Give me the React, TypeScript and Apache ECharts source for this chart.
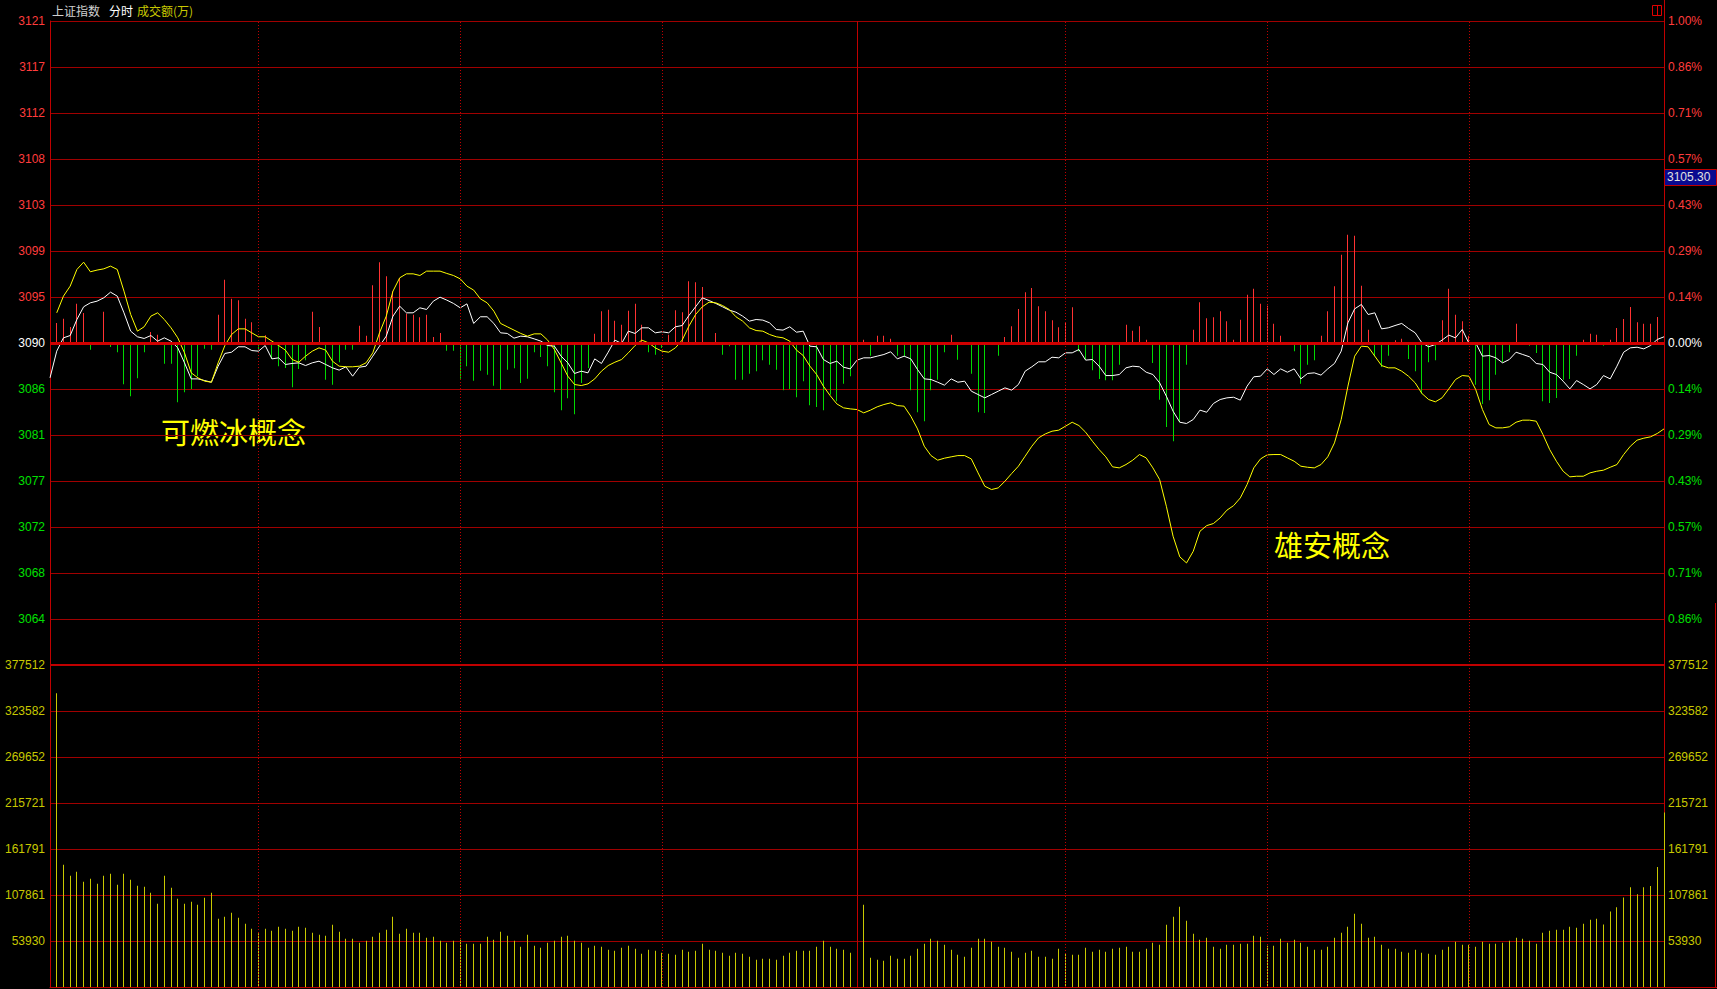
import React, { useEffect, useRef } from 'react';
import * as echarts from 'echarts';

// ---- data (one value per minute) ----
// 上证指数 price line, minute 0..240
const indexPrice = [
  3086.50, 3089.06, 3090.34, 3090.56, 3092.10, 3093.32, 3093.70, 3093.86, 3094.18, 3094.72,
  3094.34, 3092.74, 3090.98, 3090.44, 3090.28, 3090.56, 3090.02, 3090.34, 3090.02, 3089.38,
  3087.94, 3086.40, 3086.40, 3086.24, 3086.08, 3087.62, 3088.84, 3088.96, 3089.48, 3089.48,
  3089.12, 3089.06, 3089.60, 3088.32, 3088.42, 3087.78, 3087.88, 3087.94, 3087.68, 3087.94,
  3088.10, 3087.78, 3087.46, 3087.24, 3087.56, 3086.66, 3087.52, 3087.62, 3088.58, 3089.54,
  3090.50, 3092.42, 3093.38, 3092.74, 3092.74, 3093.22, 3093.06, 3093.86, 3094.24, 3093.96,
  3093.64, 3093.22, 3093.60, 3091.72, 3092.36, 3092.36, 3091.72, 3090.82, 3090.76, 3090.31,
  3090.50, 3090.44, 3090.24, 3090.02, 3089.60, 3089.54, 3088.58, 3087.94, 3086.92, 3087.14,
  3086.98, 3088.32, 3087.88, 3088.96, 3090.12, 3089.80, 3090.98, 3090.76, 3091.30, 3091.30,
  3090.82, 3090.92, 3090.82, 3091.40, 3091.52, 3092.48, 3093.32, 3094.18, 3093.92, 3093.64,
  3093.32, 3093.00, 3092.80, 3092.42, 3091.94, 3092.10, 3092.04, 3091.78, 3091.14, 3091.08,
  3091.40, 3090.88, 3090.98, 3089.54, 3089.48, 3088.26, 3087.88, 3088.10, 3087.52, 3087.36,
  3088.20, 3088.42, 3088.42, 3088.58, 3088.74, 3089.00, 3088.32, 3088.58, 3088.32, 3087.30,
  3086.40, 3086.34, 3086.08, 3085.80, 3086.40, 3086.08, 3086.18, 3085.22, 3084.90, 3084.58,
  3084.90, 3085.22, 3085.54, 3085.32, 3085.86, 3087.14, 3087.56, 3088.04, 3088.04, 3088.48,
  3088.42, 3088.90, 3088.90, 3089.22, 3088.20, 3088.26, 3087.62, 3086.72, 3086.72, 3086.82,
  3087.46, 3087.62, 3087.56, 3087.04, 3086.82, 3086.02, 3084.74, 3083.30, 3082.24, 3082.12,
  3082.50, 3083.40, 3083.20, 3084.04, 3084.42, 3084.58, 3084.64, 3084.36, 3085.70, 3086.60,
  3086.66, 3087.36, 3086.82, 3087.36, 3087.04, 3087.36, 3086.40, 3086.92, 3086.98, 3086.76,
  3087.36, 3087.88, 3089.06, 3091.78, 3093.12, 3093.54, 3092.58, 3092.74, 3091.20, 3091.30,
  3091.52, 3091.72, 3091.24, 3090.82, 3089.86, 3089.48, 3089.70, 3090.12, 3090.60, 3090.34,
  3091.14, 3089.80, 3089.86, 3088.58, 3088.64, 3088.42, 3087.94, 3088.26, 3088.96, 3088.74,
  3088.52, 3087.88, 3087.78, 3087.04, 3086.82, 3086.18, 3085.44, 3086.24, 3085.86, 3085.44,
  3085.86, 3086.72, 3086.40, 3087.62, 3088.96, 3089.38, 3089.44, 3089.28, 3089.60, 3090.18,
  3090.44,
];

// yellow line, minute 1..240
const leadPrice = [
  3092.74, 3094.34, 3095.30, 3096.90, 3097.60, 3096.68, 3096.84, 3096.96, 3097.22, 3096.90,
  3094.82, 3092.58, 3090.98, 3091.40, 3092.42, 3092.74, 3092.10, 3091.30, 3090.34, 3088.90,
  3086.98, 3086.50, 3086.18, 3086.08, 3087.94, 3089.60, 3090.66, 3091.20, 3091.20, 3090.82,
  3090.44, 3090.44, 3090.02, 3089.60, 3089.16, 3088.26, 3088.00, 3088.58, 3089.06, 3089.38,
  3089.16, 3088.10, 3087.62, 3087.56, 3087.56, 3087.62, 3087.94, 3088.90, 3090.82, 3092.42,
  3094.82, 3096.10, 3096.48, 3096.48, 3096.32, 3096.74, 3096.74, 3096.74, 3096.52, 3096.32,
  3096.00, 3095.30, 3094.92, 3094.08, 3093.70, 3092.90, 3091.72, 3091.40, 3091.08, 3090.76,
  3090.50, 3090.72, 3090.72, 3090.12, 3089.22, 3087.94, 3086.66, 3085.86, 3085.76, 3085.92,
  3086.40, 3087.14, 3087.68, 3088.00, 3088.26, 3088.90, 3089.60, 3090.12, 3089.86, 3089.38,
  3089.06, 3088.96, 3089.38, 3090.12, 3091.46, 3092.58, 3093.32, 3093.76, 3093.70, 3093.44,
  3093.06, 3092.36, 3091.94, 3091.30, 3091.04, 3090.98, 3090.66, 3090.44, 3090.34, 3090.02,
  3089.16, 3088.64, 3087.62, 3086.82, 3085.70, 3084.80, 3084.00, 3083.62, 3083.52, 3083.46,
  3083.14, 3083.40, 3083.72, 3083.94, 3084.10, 3083.84, 3083.78, 3082.82, 3081.60, 3079.94,
  3079.04, 3078.60, 3078.79, 3078.92, 3079.04, 3079.04, 3078.72, 3077.38, 3076.10, 3075.78,
  3075.94, 3076.58, 3077.32, 3078.02, 3078.98, 3079.94, 3080.74, 3081.12, 3081.38, 3081.48,
  3081.86, 3082.24, 3081.92, 3081.28, 3080.42, 3079.62, 3078.92, 3077.96, 3077.86, 3078.18,
  3078.60, 3079.14, 3078.82, 3077.86, 3076.74, 3074.18, 3071.30, 3069.32, 3068.74, 3069.86,
  3071.78, 3072.32, 3072.52, 3073.06, 3073.80, 3074.24, 3074.98, 3076.26, 3077.86, 3078.72,
  3079.11, 3079.14, 3079.14, 3078.82, 3078.50, 3078.02, 3077.92, 3077.86, 3078.18, 3078.92,
  3080.26, 3082.50, 3085.70, 3088.58, 3089.54, 3089.48, 3088.58, 3087.68, 3087.46, 3087.46,
  3087.14, 3086.66, 3086.02, 3085.00, 3084.42, 3084.20, 3084.58, 3085.44, 3086.34, 3086.72,
  3086.66, 3085.38, 3083.46, 3082.02, 3081.70, 3081.70, 3081.80, 3082.24, 3082.44, 3082.44,
  3082.34, 3081.06, 3079.62, 3078.50, 3077.54, 3077.00, 3077.06, 3077.06, 3077.38, 3077.54,
  3077.64, 3077.92, 3078.18, 3079.14, 3079.94, 3080.52, 3080.71, 3080.84, 3081.16, 3081.60,
];

// buy/sell strength bars, minute 1..240 (positive red, negative green)
const strength = [
  60, 73, 48, 118, 90, -20, 0, 94, -12, -28,
  -124, -160, -106, -28, 33, 25, -62, -62, -178, -148,
  -138, -100, -17, -20, 85, 190, 133, 128, 73, 62,
  -20, 23, -48, -70, -75, -133, -78, -52, 94, 48,
  -110, -125, -58, -20, -20, 52, 22, 173, 242, 200,
  155, 195, 88, 85, 77, 85, 18, 30, -23, -23,
  -107, -70, -113, -83, -95, -128, -140, -80, -76, -120,
  -107, -28, -42, -70, -148, -202, -166, -214, -120, -75,
  28, 95, 100, 67, 55, 97, 118, 55, -28, -35,
  -15, 25, 98, 92, 185, 182, 168, 0, 30, -35,
  -10, -110, -110, -92, -85, -52, -65, -80, -142, -138,
  -163, -115, -187, -192, -202, -155, -175, -122, -100, -25,
  10, -38, 22, 22, 13, -38, -40, -142, -208, -235,
  -142, -110, -28, 25, -50, -3, -92, -208, -210, -3,
  -38, 18, 50, 102, 152, 165, 110, 95, 68, 47,
  62, 107, -25, -50, -82, -108, -112, -112, -65, 55,
  37, 50, 10, -60, -170, -252, -295, -238, -65, 40,
  122, 74, 77, 95, 65, 10, 70, 145, 163, 118,
  112, 58, 22, 0, -25, -122, -65, -52, 22, 95,
  170, 265, 325, 322, 172, 40, -40, -72, -38, 8,
  13, -48, -85, -152, -58, -52, 68, 163, 85, 65,
  22, -125, -183, -172, -95, -58, -28, 58, -5, -8,
  -30, -175, -180, -165, -110, -108, -38, 10, 28, 25,
  -8, 10, 45, 72, 108, 62, 58, 58, 78, 0,
];

// 成交额(万), minute 1..240
const turnover = [
  344300, 143400, 130500, 135200, 123500, 127000, 121100, 130500, 132900, 120000,
  132900, 125800, 118800, 117600, 110600, 97700, 130500, 116500, 103600, 97700,
  100000, 96500, 104700, 110600, 80100, 82500, 87100, 81300, 74300, 68400,
  62900, 68400, 66000, 70700, 68400, 66000, 70700, 69600, 63700, 61400,
  60200, 73100, 64900, 56700, 56700, 52000, 54300, 59000, 63700, 67200,
  82500, 62500, 68400, 63700, 63700, 57800, 59000, 54300, 52000, 54300,
  55500, 50800, 50800, 50800, 59000, 55500, 64900, 60200, 54300, 47300,
  61400, 48500, 46100, 52000, 54300, 59000, 60200, 54300, 52000, 46100,
  48500, 47300, 43800, 42600, 46100, 48500, 44900, 39100, 43800, 42600,
  40300, 39100, 37900, 43800, 41400, 42600, 50800, 43800, 42600, 40300,
  36700, 40300, 39100, 35600, 32000, 33200, 33200, 32000, 36700, 40300,
  42600, 42600, 42600, 47300, 54300, 47300, 44900, 43800, 40300, 48500,
  96500, 34400, 32000, 30900, 36700, 33200, 33200, 36700, 44900, 50800,
  56700, 54300, 49600, 43800, 37900, 35600, 46100, 56700, 56700, 53100,
  47300, 46100, 41400, 34400, 40300, 42600, 35600, 35600, 33200, 44900,
  39100, 37900, 37900, 46100, 41400, 43800, 41400, 44900, 46100, 47300,
  41400, 41400, 44900, 52000, 49600, 73100, 82500, 94200, 77800, 62500,
  55500, 57800, 47300, 44900, 49600, 49600, 50800, 50800, 60200, 59000,
  48500, 48500, 56700, 52000, 55500, 52000, 47300, 43800, 43800, 47300,
  57800, 63700, 70700, 86000, 74300, 57800, 59000, 49600, 44900, 44900,
  41400, 40300, 43800, 40300, 39100, 37900, 43800, 47300, 53100, 49600,
  49600, 47300, 53100, 50800, 50800, 52000, 54300, 57800, 56700, 54300,
  50800, 63700, 66000, 67200, 67200, 70700, 69600, 74300, 78900, 80100,
  73300, 88500, 93600, 104800, 116900, 108700, 116900, 118400, 140700, 204500,
];

// axis tick labels, bottom to top
const priceTicks = ['', '3064', '3068', '3072', '3077', '3081', '3086', '3090', '3095', '3099', '3103', '3108', '3112', '3117', '3121'];
const pctTicks = ['', '0.86%', '0.71%', '0.57%', '0.43%', '0.29%', '0.14%', '0.00%', '0.14%', '0.29%', '0.43%', '0.57%', '0.71%', '0.86%', '1.00%'];
const turnoverTicks = ['', '53930', '107861', '161791', '215721', '269652', '323582', '377512'];

// minute slots of the time grid lines
const halfHourSlots = [31, 61, 91, 151, 181, 211];
const noonSlot = 120;

const PRICE_STEP = 4.4140625;
const PRICE_MIN = 693 * PRICE_STEP;
const PRICE_MAX = 707 * PRICE_STEP;
const PREV_CLOSE = 700 * PRICE_STEP;
const TURN_STEP = 53930.32;
const TURN_MAX = 7 * TURN_STEP;
const STRENGTH_MAX = 966;

export default function App() {
  const ref = useRef<HTMLDivElement>(null);

  useEffect(() => {
    document.body.style.margin = '0';
    document.body.style.background = '#000';
    const chart = echarts.init(ref.current as HTMLDivElement, undefined, { renderer: 'svg' });

    const GRID = '#a00000';
    const FRAME = '#c00000';
    const NUM = '"Liberation Sans", Arial, sans-serif';
    const CJK = '"Noto Sans CJK SC", sans-serif';
    const RED = '#ff3c3c';
    const GREEN = '#00e000';
    const YEL = '#c8c800';

    const rich = {
      r: { color: RED, fontSize: 12, fontFamily: NUM },
      w: { color: '#ffffff', fontSize: 12, fontFamily: NUM },
      g: { color: GREEN, fontSize: 12, fontFamily: NUM },
    };
    const tag = (i: number) => (i > 7 ? 'r' : i === 7 ? 'w' : 'g');
    const priceIdx = (v: number) => Math.round((v - PRICE_MIN) / PRICE_STEP);
    const fmtFrom = (arr: string[]) => (v: number) => {
      const i = priceIdx(v);
      return arr[i] ? `{${tag(i)}|${arr[i]}}` : '';
    };

    const indexData = indexPrice.map((v, i) => [i, v]);
    const leadData = leadPrice.map((v, i) => [i + 1, v]);
    const strengthData = strength.map((v, i) => [i + 1, v]);
    const turnoverData = turnover.map((v, i) => [i + 1, v]);

    const stick = (colorOf: (v: number) => string) => (params: any, api: any) => {
      const x = api.value(0);
      const v = api.value(1);
      if (!v) return { type: 'group', children: [] };
      const top = api.coord([x, v]);
      const base = api.coord([x, 0]);
      const y0 = Math.min(top[1], base[1]);
      return {
        type: 'rect',
        shape: { x: Math.floor(top[0]), y: y0, width: 1, height: Math.abs(top[1] - base[1]) },
        style: { fill: colorOf(v) },
      };
    };

    const timeMarks = [
      ...halfHourSlots.map((s) => ({ xAxis: s, lineStyle: { color: FRAME, type: [1, 2], width: 1 } })),
      { xAxis: noonSlot, lineStyle: { color: FRAME, type: 'solid', width: 1 } },
    ];

    const hiddenX = {
      type: 'value', min: 0, max: 240, axisLabel: { show: false }, axisTick: { show: false },
      splitLine: { show: false },
    };

    const option: any = {
      animation: false,
      backgroundColor: '#000000',
      grid: [
        { left: 50, top: 21, width: 1614, height: 644 },
        { left: 50, top: 665, width: 1614, height: 322 },
      ],
      xAxis: [
        { ...hiddenX, gridIndex: 0, axisLine: { show: false } },
        { ...hiddenX, gridIndex: 1, axisLine: { show: true, onZero: false, lineStyle: { color: FRAME } } },
      ],
      yAxis: [
        {
          gridIndex: 0, type: 'value', position: 'left', min: PRICE_MIN, max: PRICE_MAX, interval: PRICE_STEP,
          axisLine: { show: true, lineStyle: { color: FRAME } }, axisTick: { show: false },
          splitLine: { show: true, lineStyle: { color: GRID, width: 1 } },
          axisLabel: { margin: 5, formatter: fmtFrom(priceTicks), rich, showMinLabel: true, showMaxLabel: true },
        },
        {
          gridIndex: 0, type: 'value', position: 'right', min: PRICE_MIN, max: PRICE_MAX, interval: PRICE_STEP,
          axisLine: { show: true, lineStyle: { color: FRAME } }, axisTick: { show: false },
          splitLine: { show: false },
          axisLabel: { margin: 4, formatter: fmtFrom(pctTicks), rich, showMinLabel: true, showMaxLabel: true },
        },
        { gridIndex: 0, type: 'value', min: -STRENGTH_MAX, max: STRENGTH_MAX, show: false },
        {
          gridIndex: 1, type: 'value', position: 'left', min: 0, max: TURN_MAX, interval: TURN_STEP,
          axisLine: { show: true, lineStyle: { color: FRAME } }, axisTick: { show: false },
          splitLine: { show: true, lineStyle: { color: GRID, width: 1 } },
          axisLabel: {
            margin: 5, color: YEL, fontSize: 12, fontFamily: NUM, showMinLabel: true, showMaxLabel: true,
            formatter: (v: number) => turnoverTicks[Math.round(v / TURN_STEP)] || '',
          },
        },
        {
          gridIndex: 1, type: 'value', position: 'right', min: 0, max: TURN_MAX, interval: TURN_STEP,
          axisLine: { show: true, lineStyle: { color: FRAME } }, axisTick: { show: false },
          splitLine: { show: false },
          axisLabel: {
            margin: 4, color: YEL, fontSize: 12, fontFamily: NUM, showMinLabel: true, showMaxLabel: true,
            formatter: (v: number) => turnoverTicks[Math.round(v / TURN_STEP)] || '',
          },
        },
      ],
      series: [
        {
          type: 'custom', name: '买卖力量', xAxisIndex: 0, yAxisIndex: 2, data: strengthData,
          encode: { x: 0, y: 1 }, z: 2, silent: true,
          renderItem: stick((v) => (v > 0 ? '#ff3232' : '#00d800')),
        },
        {
          type: 'line', name: '上证指数', xAxisIndex: 0, yAxisIndex: 0, data: indexData,
          showSymbol: false, symbol: 'none', silent: true, z: 4,
          lineStyle: { color: '#ffffff', width: 1 },
          markLine: {
            silent: true, symbol: ['none', 'none'], label: { show: false },
            data: [...timeMarks, { yAxis: PREV_CLOSE, lineStyle: { color: '#d00000', width: 3, type: 'solid' } }],
          },
        },
        {
          type: 'line', name: '领先指标', xAxisIndex: 0, yAxisIndex: 0, data: leadData,
          showSymbol: false, symbol: 'none', silent: true, z: 4,
          lineStyle: { color: '#ffff00', width: 1 },
        },
        {
          type: 'custom', name: '成交额', xAxisIndex: 1, yAxisIndex: 3, data: turnoverData,
          encode: { x: 0, y: 1 }, z: 2, silent: true,
          renderItem: stick(() => YEL),
        },
        {
          type: 'line', xAxisIndex: 1, yAxisIndex: 3, data: [[0, 0]], showSymbol: false, symbol: 'none',
          silent: true, lineStyle: { opacity: 0 },
          markLine: {
            silent: true, symbol: ['none', 'none'], label: { show: false },
            data: [...timeMarks, { yAxis: TURN_MAX, lineStyle: { color: FRAME, width: 2, type: 'solid' } }],
          },
        },
      ],
      graphic: [
        { type: 'text', x: 52, y: 10, silent: true, style: { text: '上证指数', fill: '#d0d0d0', font: `12px ${CJK}`, textVerticalAlign: 'middle', verticalAlign: 'middle' } },
        { type: 'text', x: 109, y: 10, silent: true, style: { text: '分时', fill: '#ffffff', font: `12px ${CJK}`, textVerticalAlign: 'middle', verticalAlign: 'middle' } },
        { type: 'text', x: 137, y: 10, silent: true, style: { text: '成交额(万)', fill: YEL, font: `12px ${CJK}`, textVerticalAlign: 'middle', verticalAlign: 'middle' } },
        { type: 'text', x: 161, y: 431, silent: true, style: { text: '可燃冰概念', fill: '#ffff00', font: `29px ${CJK}`, textVerticalAlign: 'middle', verticalAlign: 'middle' } },
        { type: 'text', x: 1274, y: 544, silent: true, style: { text: '雄安概念', fill: '#ffff00', font: `29px ${CJK}`, textVerticalAlign: 'middle', verticalAlign: 'middle' } },
        { type: 'rect', silent: true, shape: { x: 1664.5, y: 169.5, width: 52, height: 16 }, style: { fill: '#0a0a90', stroke: FRAME, lineWidth: 1 } },
        { type: 'text', x: 1667, y: 177, silent: true, style: { text: '3105.30', fill: '#e0e0e0', font: `12px ${NUM}`, textVerticalAlign: 'middle', verticalAlign: 'middle' } },
        { type: 'rect', silent: true, shape: { x: 1652.5, y: 5.5, width: 9, height: 10 }, style: { fill: 'none', stroke: '#e00000', lineWidth: 1 } },
        { type: 'line', silent: true, shape: { x1: 1657.5, y1: 6, x2: 1657.5, y2: 15 }, style: { stroke: '#e00000', lineWidth: 1 } },
        { type: 'line', silent: true, shape: { x1: 1664.5, y1: 0, x2: 1664.5, y2: 21 }, style: { stroke: FRAME, lineWidth: 1 } },
        { type: 'line', silent: true, shape: { x1: 1715.5, y1: 603, x2: 1715.5, y2: 988 }, style: { stroke: FRAME, lineWidth: 1 } },
        { type: 'line', silent: true, shape: { x1: 1664, y1: 987.5, x2: 1717, y2: 987.5 }, style: { stroke: FRAME, lineWidth: 1 } },
      ],
    };

    chart.setOption(option);
    return () => chart.dispose();
  }, []);

  return (
    <div
      ref={ref}
      style={{ position: 'fixed', left: 0, top: 0, width: 1717, height: 989, background: '#000' }}
    />
  );
}
